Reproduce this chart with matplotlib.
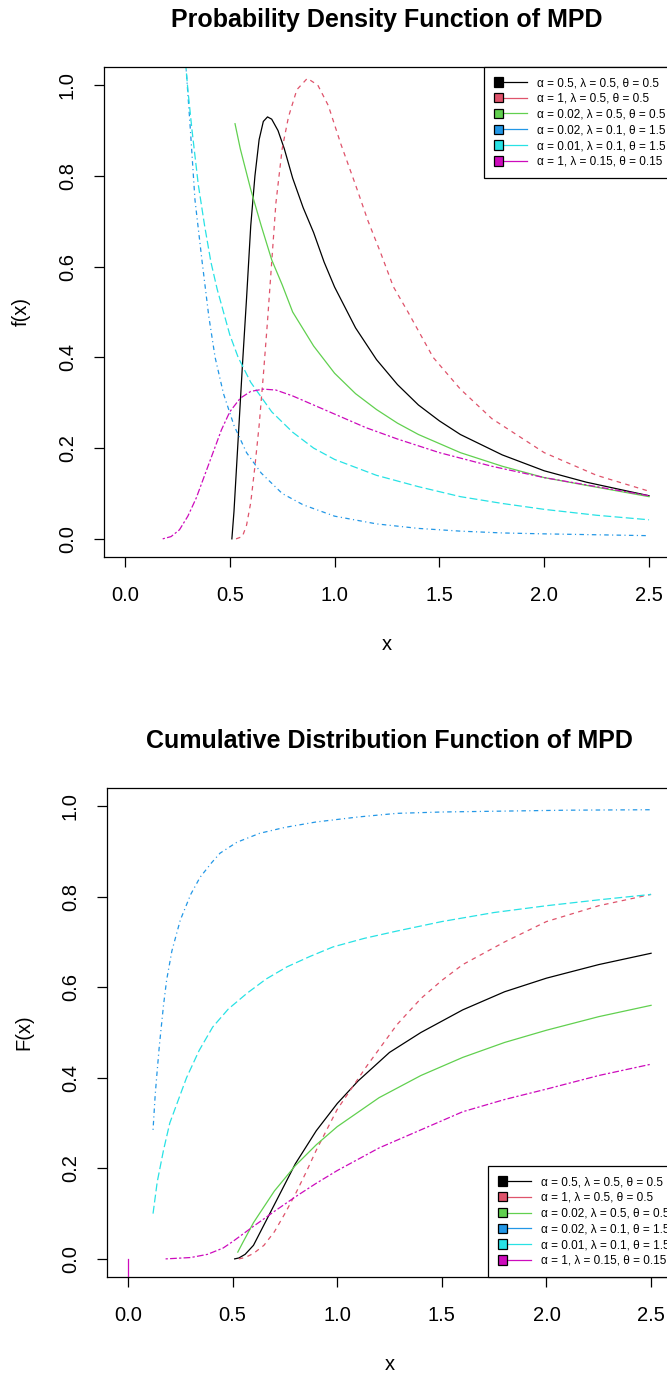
import matplotlib
matplotlib.use("Agg")
import matplotlib.pyplot as plt
from matplotlib.legend_handler import HandlerBase
from matplotlib.patches import Rectangle
from matplotlib.lines import Line2D

plt.rcParams['font.family'] = ['Liberation Sans', 'DejaVu Sans']

# legend labels, colours (R 4 palette) and line types
labels = ["α = 0.5, λ = 0.5, θ = 0.5",
          "α = 1, λ = 0.5, θ = 0.5",
          "α = 0.02, λ = 0.5, θ = 0.5",
          "α = 0.02, λ = 0.1, θ = 1.5",
          "α = 0.01, λ = 0.1, θ = 1.5",
          "α = 1, λ = 0.15, θ = 0.15"]
colors = ['#000000', '#DF536B', '#61D04F', '#2297E6', '#28E2E5', '#CD0BBC']
styles = ['-', (0, (3.6, 3.6)), '-', (0, (0.9, 2.7, 3.6, 2.7)),
          (0, (6.3, 2.7)), (0, (1.8, 1.8, 5.4, 1.8))]

x_ticks = [0.0, 0.5, 1.0, 1.5, 2.0, 2.5]
x_tick_labels = ["0.0", "0.5", "1.0", "1.5", "2.0", "2.5"]
y_ticks = [0.0, 0.2, 0.4, 0.6, 0.8, 1.0]
y_tick_labels = ["0.0", "0.2", "0.4", "0.6", "0.8", "1.0"]

# ---- PDF values ----
pdf_x1 = [0.51, 0.52, 0.54, 0.56, 0.58, 0.60, 0.62, 0.64, 0.66, 0.68, 0.70, 0.73, 0.76,
          0.80, 0.85, 0.90, 0.95, 1.00, 1.10, 1.20, 1.30, 1.40, 1.50, 1.60, 1.80, 2.00, 2.20, 2.50]
pdf_y1 = [0.00, 0.06, 0.22, 0.38, 0.53, 0.69, 0.80, 0.88, 0.92, 0.93, 0.925, 0.90, 0.86,
          0.795, 0.73, 0.675, 0.61, 0.555, 0.465, 0.395, 0.34, 0.295, 0.26, 0.23, 0.185, 0.15,
          0.125, 0.095]

pdf_x2 = [0.53, 0.56, 0.58, 0.60, 0.62, 0.64, 0.66, 0.68, 0.70, 0.72, 0.75, 0.78, 0.82, 0.87,
          0.92, 0.97, 1.03, 1.10, 1.16, 1.22, 1.28, 1.35, 1.47, 1.60, 1.75, 2.00, 2.25, 2.50]
pdf_y2 = [0.00, 0.005, 0.03, 0.08, 0.16, 0.25, 0.36, 0.48, 0.61, 0.74, 0.86, 0.93, 0.99, 1.015,
          1.00, 0.955, 0.87, 0.78, 0.70, 0.63, 0.556, 0.50, 0.40, 0.33, 0.265, 0.19, 0.14, 0.105]

pdf_x3 = [0.525, 0.55, 0.60, 0.65, 0.70, 0.75, 0.80, 0.90, 1.00, 1.10, 1.20, 1.30, 1.40,
          1.50, 1.60, 1.80, 2.00, 2.20, 2.50]
pdf_y3 = [0.915, 0.86, 0.77, 0.69, 0.615, 0.56, 0.50, 0.425, 0.365, 0.32, 0.285, 0.255, 0.23,
          0.21, 0.19, 0.16, 0.135, 0.118, 0.093]

pdf_x4 = [0.288, 0.31, 0.334, 0.367, 0.40, 0.43, 0.47, 0.52, 0.58, 0.65, 0.75, 0.85, 1.00,
          1.20, 1.40, 1.60, 1.80, 2.00, 2.25, 2.50]
pdf_y4 = [1.06, 0.916, 0.747, 0.615, 0.49, 0.40, 0.32, 0.25, 0.19, 0.145, 0.10, 0.075, 0.05,
          0.033, 0.023, 0.017, 0.013, 0.011, 0.009, 0.007]

pdf_x5 = [0.28, 0.30, 0.32, 0.35, 0.38, 0.41, 0.44, 0.47, 0.50, 0.54, 0.60, 0.70, 0.80, 0.90,
          1.00, 1.20, 1.40, 1.60, 1.80, 2.00, 2.25, 2.50]
pdf_y5 = [1.10, 0.99, 0.90, 0.78, 0.69, 0.61, 0.55, 0.50, 0.45, 0.40, 0.345, 0.28, 0.235, 0.20,
          0.175, 0.14, 0.115, 0.093, 0.078, 0.065, 0.052, 0.042]

pdf_x6 = [0.18, 0.22, 0.26, 0.30, 0.34, 0.38, 0.42, 0.46, 0.50, 0.55, 0.60, 0.66, 0.72, 0.80,
          0.90, 1.00, 1.15, 1.30, 1.50, 1.75, 2.00, 2.25, 2.50]
pdf_y6 = [0.00, 0.005, 0.02, 0.05, 0.09, 0.14, 0.19, 0.24, 0.28, 0.31, 0.325, 0.33, 0.328, 0.315,
          0.295, 0.275, 0.245, 0.22, 0.19, 0.16, 0.135, 0.115, 0.095]

# ---- CDF values ----
cdf_x1 = [0.51, 0.53, 0.56, 0.60, 0.65, 0.70, 0.75, 0.80, 0.90, 1.00, 1.10, 1.25, 1.40,
          1.60, 1.80, 2.00, 2.25, 2.50]
cdf_y1 = [0.00, 0.002, 0.01, 0.03, 0.075, 0.12, 0.165, 0.21, 0.283, 0.343, 0.393, 0.456, 0.50,
          0.55, 0.59, 0.62, 0.65, 0.675]

cdf_x2 = [0.53, 0.56, 0.60, 0.65, 0.70, 0.75, 0.80, 0.85, 0.90, 1.00, 1.14, 1.285, 1.40,
          1.50, 1.60, 1.80, 2.00, 2.25, 2.50]
cdf_y2 = [0.00, 0.003, 0.012, 0.03, 0.06, 0.10, 0.143, 0.19, 0.24, 0.33, 0.425, 0.517, 0.575,
          0.615, 0.65, 0.70, 0.745, 0.78, 0.805]

cdf_x3 = [0.525, 0.55, 0.60, 0.70, 0.80, 0.90, 1.00, 1.20, 1.40, 1.60, 1.80, 2.00, 2.25, 2.50]
cdf_y3 = [0.015, 0.037, 0.08, 0.15, 0.206, 0.252, 0.292, 0.356, 0.405, 0.445, 0.478, 0.505,
          0.535, 0.56]

cdf_x4 = [0.12, 0.13, 0.137, 0.15, 0.17, 0.185, 0.21, 0.25, 0.30, 0.345, 0.40, 0.44, 0.52,
          0.63, 0.75, 0.90, 1.10, 1.285, 1.50, 1.80, 2.10, 2.50]
cdf_y4 = [0.285, 0.36, 0.40, 0.47, 0.56, 0.616, 0.68, 0.748, 0.805, 0.843, 0.875, 0.896, 0.92,
          0.94, 0.953, 0.965, 0.976, 0.984, 0.987, 0.989, 0.991, 0.992]

cdf_x5 = [0.12, 0.14, 0.17, 0.20, 0.24, 0.28, 0.34, 0.405, 0.48, 0.57, 0.66, 0.76, 0.87, 0.98,
          1.13, 1.285, 1.50, 1.75, 2.00, 2.25, 2.50]
cdf_y5 = [0.10, 0.17, 0.24, 0.30, 0.35, 0.40, 0.46, 0.512, 0.552, 0.587, 0.618, 0.645, 0.668,
          0.689, 0.708, 0.724, 0.745, 0.765, 0.78, 0.793, 0.805]

cdf_x6 = [0.18, 0.30, 0.38, 0.455, 0.50, 0.55, 0.60, 0.70, 0.80, 0.90, 1.00, 1.20, 1.40, 1.50,
          1.60, 1.80, 2.00, 2.25, 2.50]
cdf_y6 = [0.00, 0.003, 0.01, 0.024, 0.038, 0.055, 0.072, 0.105, 0.137, 0.167, 0.195, 0.245,
          0.285, 0.305, 0.325, 0.352, 0.375, 0.405, 0.43]

# stray magenta segment at x = 0 in the CDF panel
stray_x = [0.0, 0.0]
stray_y = [0.0, -0.1]

pdf_xs = [pdf_x1, pdf_x2, pdf_x3, pdf_x4, pdf_x5, pdf_x6]
pdf_ys = [pdf_y1, pdf_y2, pdf_y3, pdf_y4, pdf_y5, pdf_y6]
cdf_xs = [cdf_x1, cdf_x2, cdf_x3, cdf_x4, cdf_x5, cdf_x6]
cdf_ys = [cdf_y1, cdf_y2, cdf_y3, cdf_y4, cdf_y5, cdf_y6]


class BoxLine(HandlerBase):
    # R style legend key: filled box followed by a line
    def create_artists(self, legend, orig_handle, xdescent, ydescent,
                       width, height, fontsize, trans):
        c = orig_handle.get_color()
        s = 0.8 * fontsize
        y0 = -ydescent + height / 2
        line = Line2D([-xdescent + s, -xdescent + width], [y0, y0],
                      color=c, lw=0.9, transform=trans)
        box = Rectangle((-xdescent, y0 - s / 2), s, s, facecolor=c,
                        edgecolor='black', lw=0.9, transform=trans)
        return [line, box]


def panel(ax, xs, ys, title, ylabel, loc, anchor):
    lines = []
    for x, y, c, ls in zip(xs, ys, colors, styles):
        ln, = ax.plot(x, y, color=c, lw=0.9, linestyle=ls)
        lines.append(ln)
    ax.set_xlim(-0.1, 2.6)
    ax.set_ylim(-0.04, 1.04)
    ax.set_xticks(x_ticks)
    ax.set_xticklabels(x_tick_labels)
    ax.set_yticks(y_ticks)
    ax.set_yticklabels(y_tick_labels)
    ax.tick_params(direction='out', length=7.5, width=0.9, labelsize=14.5)
    ax.tick_params(axis='x', pad=13.7)
    ax.tick_params(axis='y', pad=12, labelrotation=90)
    for lbl in ax.get_yticklabels():
        lbl.set_va('center')
    for sp in ax.spines.values():
        sp.set_linewidth(0.9)
    ax.set_title(title, fontsize=18, fontweight='bold', pad=28.8)
    ax.set_xlabel('x', fontsize=14.5)
    ax.xaxis.set_label_coords(0.5, -0.19)
    ax.xaxis.label.set_va('baseline')
    ax.set_ylabel(ylabel, fontsize=14.5)
    ax.yaxis.set_label_coords(-0.147, 0.5)
    ax.yaxis.label.set_va('center')
    leg = ax.legend(handles=lines, labels=labels, handler_map={Line2D: BoxLine()},
                    loc=loc, bbox_to_anchor=anchor, borderaxespad=0, fontsize=8.5,
                    frameon=True, fancybox=False, edgecolor='black', framealpha=1,
                    borderpad=0.85, labelspacing=0.32, handlelength=2.8,
                    handletextpad=0.85)
    leg.get_frame().set_linewidth(0.9)
    return lines


fig = plt.figure(figsize=(6.67, 13.76), dpi=100)
ax1 = fig.add_axes([104 / 667, 1 - 557 / 1376, 566 / 667, 490 / 1376])
ax2 = fig.add_axes([107 / 667, 1 - 1277 / 1376, 565 / 667, 489 / 1376])

panel(ax1, pdf_xs, pdf_ys, 'Probability Density Function of MPD', 'f(x)',
      'upper left', (0.671, 1.0))
panel(ax2, cdf_xs, cdf_ys, 'Cumulative Distribution Function of MPD', 'F(x)',
      'lower left', (0.674, 0.0))
ax2.plot(stray_x, stray_y, color=colors[5], lw=0.9)

fig.savefig('out.png', dpi=100)
